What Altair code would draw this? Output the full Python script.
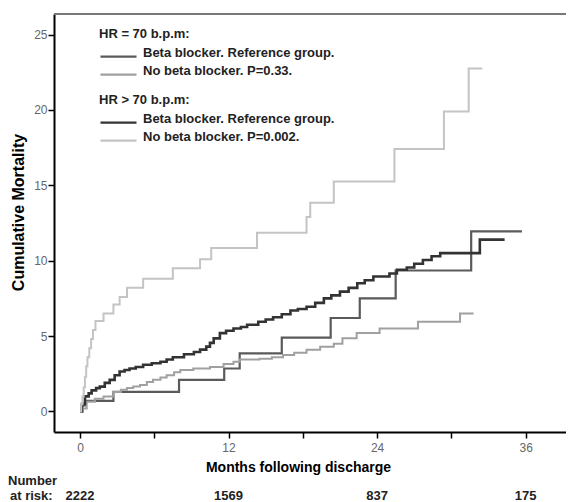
import altair as alt
import pandas as pd

# ---- data (months, cumulative mortality %) ----
# HR = 70 b.p.m, beta blocker (reference group)
c_t = [0, 0.2, 0.4, 2.7, 8.0, 11.65, 12.9, 16.3, 20.25, 22.6, 25.5, 31.6, 35.7]
c_y = [0, 0.4, 0.7, 1.3, 2.1, 2.85, 3.85, 4.9, 6.2, 7.5, 9.35, 11.95, 11.95]
# HR = 70 b.p.m, no beta blocker
d_t = [0, 0.1, 0.54, 1.2, 1.9, 2.7, 3.3, 3.8, 4.3, 4.85, 5.4, 5.9, 6.5, 7.0, 7.6, 8.1, 9.15,
       10.5, 11.6, 12.4, 12.9, 14.5, 15.5, 16.4, 17.3, 18.3, 19.4, 20.5, 21.2, 22.35, 24.2,
       27.3, 30.7, 31.8]
d_y = [0, 0.2, 0.65, 0.85, 1.0, 1.3, 1.45, 1.55, 1.65, 1.75, 1.95, 2.1, 2.25, 2.4, 2.6, 2.75,
       2.85, 2.95, 3.15, 3.3, 3.45, 3.5, 3.6, 3.75, 3.9, 4.1, 4.3, 4.5, 4.85, 5.2, 5.5, 5.95,
       6.5, 6.5]
# HR > 70 b.p.m, beta blocker (reference group)
b_t = [0, 0.15, 0.4, 0.7, 0.94, 1.3, 1.6, 2.0, 2.4, 2.8, 3.2, 3.6, 4.0, 4.5, 5.1, 5.8, 6.5,
       7.0, 7.5, 8.4, 9.2, 9.7, 10.2, 10.5, 10.8, 11.3, 11.8, 12.4, 13.0, 13.5, 14.4, 15.0,
       15.6, 16.3, 17.0, 17.6, 18.3, 19.0, 19.7, 20.3, 21.0, 21.7, 22.4, 23.0, 23.7, 25.0,
       25.6, 26.4, 27.0, 27.7, 28.4, 29.1, 32.3, 34.3]
b_y = [0, 0.5, 1.0, 1.2, 1.4, 1.55, 1.65, 1.9, 2.1, 2.4, 2.65, 2.75, 2.85, 2.95, 3.1, 3.2, 3.3,
       3.45, 3.6, 3.8, 3.95, 4.1, 4.3, 4.55, 4.85, 5.2, 5.35, 5.5, 5.6, 5.75, 5.95, 6.1, 6.25,
       6.45, 6.7, 6.8, 6.95, 7.2, 7.5, 7.7, 7.95, 8.2, 8.5, 8.7, 8.95, 9.15, 9.4, 9.55, 9.8,
       10.05, 10.3, 10.5, 11.4, 11.4]
# HR > 70 b.p.m, no beta blocker
a_t = [0, 0.1, 0.2, 0.3, 0.4, 0.5, 0.6, 0.75, 0.9, 1.05, 1.25, 1.9, 2.7, 3.2, 3.8, 5.1, 7.5,
       9.7, 10.6, 14.3, 18.3, 18.6, 20.5, 25.4, 29.4, 31.4, 32.5]
a_y = [0, 0.5, 1.0, 1.6, 2.3, 3.0, 3.6, 4.2, 4.8, 5.4, 6.0, 6.5, 7.1, 7.6, 8.2, 8.8, 9.5,
       10.1, 10.85, 11.85, 12.9, 13.85, 15.25, 17.4, 19.9, 22.75, 22.75]

lab_bb = "Beta blocker. Reference group."
lab_nb1 = "No beta blocker. P=0.33."
lab_nb2 = "No beta blocker. P=0.002."

risk_t = [0, 12, 24, 36]
risk_n = ["2222", "1569", "837", "175"]

x_ticks = [0, 6, 12, 18, 24, 30, 36]
y_ticks = [0, 5, 10, 15, 20, 25]

FONT = "Liberation Sans"
W, H = 512, 418

df1 = pd.concat([
    pd.DataFrame({"t": c_t, "y": c_y, "label": lab_bb}),
    pd.DataFrame({"t": d_t, "y": d_y, "label": lab_nb1}),
])
df2 = pd.concat([
    pd.DataFrame({"t": b_t, "y": b_y, "label": lab_bb}),
    pd.DataFrame({"t": a_t, "y": a_y, "label": lab_nb2}),
])
df_risk = pd.DataFrame({"t": risk_t, "n": risk_n})
dummy = pd.DataFrame({"a": [0]})

xscale = alt.Scale(domain=[-2.1, 39.26], nice=False, zero=False)
yscale = alt.Scale(domain=[-1.36, 26.36], nice=False, zero=False)

x_enc = alt.X("t:Q", scale=xscale, axis=alt.Axis(
    values=x_ticks, labelExpr="datum.value % 12 == 0 ? datum.label : ''",
    title="Months following discharge", titleFont=FONT, titleFontSize=14,
    titleFontWeight="bold", titleColor="black", titleX=244, titleY=35,
    titleBaseline="middle", labelFont=FONT, labelFontSize=12, labelColor="#666",
    labelPadding=4, tickSize=6, tickWidth=1.5, tickColor="black",
    domainColor="black", domainWidth=2, grid=False))
y_enc = alt.Y("y:Q", scale=yscale, axis=alt.Axis(
    values=y_ticks, title="Cumulative Mortality", titleFont=FONT, titleFontSize=16,
    titleFontWeight="bold", titleColor="black", titleX=-36, titleY=198,
    titleBaseline="middle", labelFont=FONT, labelFontSize=12, labelColor="#666",
    labelPadding=1, tickSize=6, tickWidth=1.5, tickColor="black",
    domainColor="black", domainWidth=2, grid=False))

leg_common = dict(orient="none", symbolType="M-1,0.7H5", symbolSize=144,
                  symbolStrokeWidth=2.2, labelFont=FONT, labelFontSize=13,
                  labelFontWeight="bold", labelColor="#222", titleFont=FONT,
                  titleFontSize=13, titleFontWeight="bold", titleColor="#222",
                  labelOffset=29, rowPadding=1, titlePadding=4, padding=0,
                  labelLimit=300)

lines1 = alt.Chart(df1).mark_line(interpolate="step-after").encode(
    x=x_enc, y=y_enc,
    color=alt.Color("label:N", scale=alt.Scale(domain=[lab_bb, lab_nb1],
                    range=["#5a5a5a", "#a0a0a0"]),
                    legend=alt.Legend(title="HR = 70 b.p.m:", legendX=45, legendY=14,
                                      **leg_common)),
    strokeWidth=alt.StrokeWidth("label:N", scale=alt.Scale(domain=[lab_bb, lab_nb1],
                                range=[2.2, 2.0]), legend=None),
)
lines2 = alt.Chart(df2).mark_line(interpolate="step-after").encode(
    x=alt.X("t:Q", scale=xscale), y=alt.Y("y:Q", scale=yscale),
    stroke=alt.Stroke("label:N", scale=alt.Scale(domain=[lab_bb, lab_nb2],
                      range=["#333333", "#c4c4c4"]),
                      legend=alt.Legend(title="HR > 70 b.p.m:", legendX=45, legendY=80,
                                        **leg_common)),
    strokeWidth=alt.StrokeWidth("label:N", scale=alt.Scale(domain=[lab_bb, lab_nb2],
                                range=[2.6, 2.0]), legend=None),
)

risk = alt.Chart(df_risk).mark_text(font=FONT, fontSize=13, fontWeight="bold",
                                     color="#222", baseline="middle").encode(
    x=alt.X("t:Q", scale=xscale), y=alt.value(482), text="n:N")
lab_num = alt.Chart(dummy).mark_text(font=FONT, fontSize=13, fontWeight="bold",
                                      color="#222", align="left", baseline="middle").encode(
    x=alt.value(-46), y=alt.value(467), text=alt.value("Number"))
lab_risk = alt.Chart(dummy).mark_text(font=FONT, fontSize=13, fontWeight="bold",
                                       color="#222", align="left", baseline="middle").encode(
    x=alt.value(-44), y=alt.value(482), text=alt.value("at risk:"))
top_rule = alt.Chart(dummy).mark_rule(color="#777", strokeWidth=2).encode(
    x=alt.value(0), x2=alt.value(W), y=alt.value(0))

chart = alt.layer(lines1, lines2, risk, lab_num, lab_risk, top_rule).resolve_scale(
    strokeWidth="independent"
).properties(
    width=W, height=H,
    autosize=alt.AutoSizeParams(type="none"),
    padding={"left": 46, "top": 6, "right": 0, "bottom": 70},
    background="white",
).configure_view(stroke="#d8d8d8", strokeWidth=1)

chart.save("out.html", embed_options={"renderer": "svg", "actions": False})
